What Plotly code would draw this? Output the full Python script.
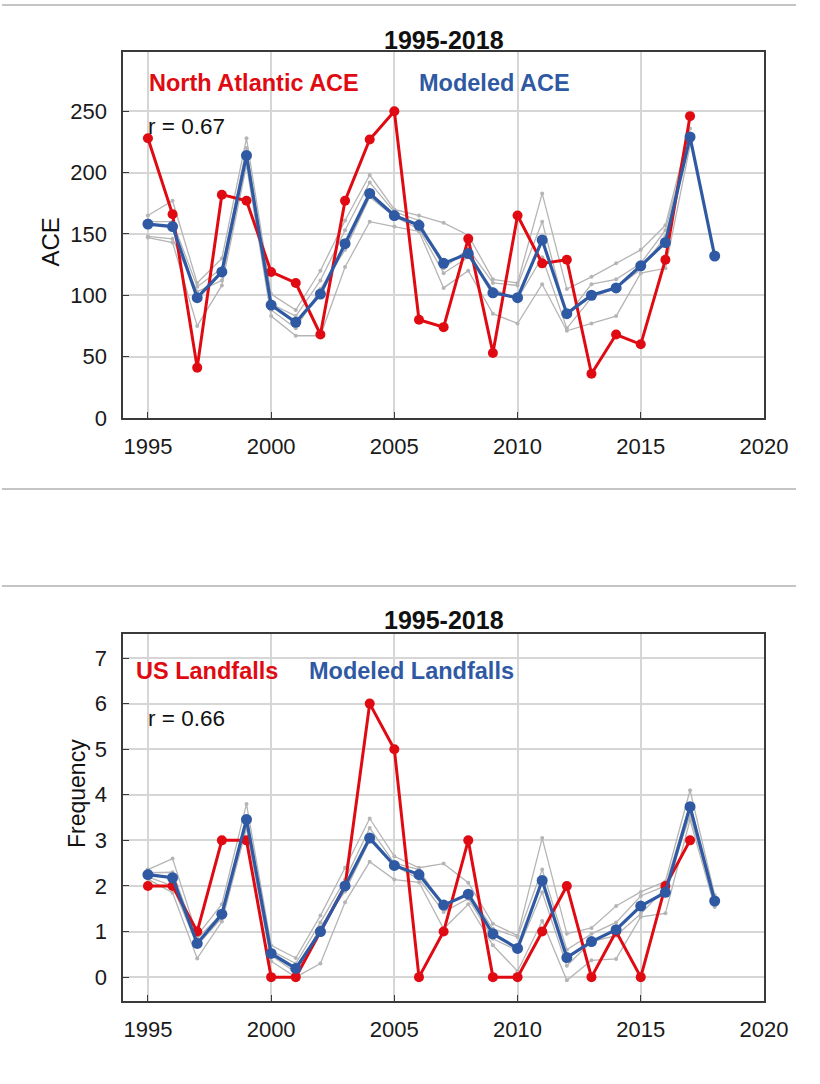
import plotly.graph_objects as go

W, H = 820, 1084

years = list(range(1995, 2019))

# --- Top panel: Accumulated Cyclone Energy ---
ace_obs = [228, 166, 41, 182, 177, 119, 110, 68, 177, 227, 250, 80, 74, 146, 53,
           165, 126, 129, 36, 68, 60, 129, 246, None]
ace_model = [158, 156, 98, 119, 214, 92, 78, 101, 142, 183, 165, 157, 126, 134, 102,
             98, 145, 85, 100, 106, 124, 143, 229, 132]
ace_members = [
    [165, 177, 110, 130, 228, 101, 88, 120, 161, 198, 170, 165, 159, 149, 113,
     110, 183, 105, 115, 126, 137, 157, 236, None],
    [160, 160, 107, 122, 220, 93, 83, 112, 153, 192, 168, 161, 122, 138, 110,
     108, 160, 83, 109, 113, 126, 153, 230, None],
    [148, 146, 103, 112, 212, 88, 73, 105, 137, 180, 164, 154, 118, 131, 105,
     97, 131, 73, 98, 106, 121, 148, 224, None],
    [147, 143, 75, 108, 206, 83, 67, 67, 123, 160, 156, 152, 106, 120, 85,
     77, 109, 71, 77, 83, 118, 122, 222, None],
]

# --- Bottom panel: US hurricane landfalls ---
land_obs = [2, 2, 1, 3, 3, 0, 0, 1, 2, 6, 5, 0, 1, 3, 0, 0, 1, 2, 0, 1, 0, 2, 3, None]
land_model = [2.25, 2.18, 0.74, 1.38, 3.46, 0.52, 0.19, 1.0, 2.0, 3.05, 2.45, 2.25,
              1.58, 1.82, 0.95, 0.63, 2.12, 0.43, 0.78, 1.04, 1.56, 1.86, 3.74, 1.67]
land_members = [
    [2.36, 2.6, 0.91, 1.6, 3.8, 0.7, 0.42, 1.35, 2.4, 3.48, 2.65, 2.4, 2.49, 2.07,
     1.17, 0.91, 3.05, 0.95, 1.08, 1.56, 1.87, 2.1, 4.1, 1.8],
    [2.29, 2.3, 0.84, 1.4, 3.5, 0.58, 0.3, 1.2, 2.14, 3.27, 2.5, 2.36, 1.54, 1.86,
     1.06, 0.88, 2.36, 0.6, 0.95, 1.2, 1.78, 2.0, 3.8, 1.7],
    [2.2, 2.0, 0.7, 1.3, 3.33, 0.48, 0.1, 1.1, 1.88, 3.0, 2.45, 2.15, 1.43, 1.72,
     0.84, 0.58, 1.86, 0.25, 0.78, 0.91, 1.39, 1.95, 3.55, 1.65],
    [2.15, 1.85, 0.41, 1.22, 3.27, 0.35, 0.0, 0.3, 1.64, 2.53, 2.14, 2.08, 1.06, 1.6,
     0.7, 0.13, 1.23, -0.07, 0.37, 0.4, 1.32, 1.4, 3.45, 1.54],
]

panel_title = "1995-2018"
ace_labels = ("North Atlantic ACE", "Modeled ACE", "r = 0.67", "ACE")
land_labels = ("US Landfalls", "Modeled Landfalls", "r = 0.66", "Frequency")

RED = "#e00b12"
BLUE = "#2f5aa3"
GRAY = "#b5b5b5"
FONT = "Liberation Sans, Arial, sans-serif"


def px_x(x):
    return x / W


def px_y(y):
    return 1 - y / H


fig = go.Figure()


def add_panel(xa, ya, obs, model, members):
    for m in members:
        fig.add_trace(go.Scatter(
            x=years, y=m, xaxis=xa, yaxis=ya, mode="lines+markers",
            line=dict(color=GRAY, width=1.3), marker=dict(color=GRAY, size=4),
            showlegend=False, hoverinfo="skip"))
    fig.add_trace(go.Scatter(
        x=years, y=obs, xaxis=xa, yaxis=ya, mode="lines+markers",
        line=dict(color=RED, width=3), marker=dict(color=RED, size=10),
        showlegend=False))
    fig.add_trace(go.Scatter(
        x=years, y=model, xaxis=xa, yaxis=ya, mode="lines+markers",
        line=dict(color=BLUE, width=3.2), marker=dict(color=BLUE, size=11),
        showlegend=False))


add_panel("x", "y", ace_obs, ace_model, ace_members)
add_panel("x2", "y2", land_obs, land_model, land_members)

axis_common = dict(
    showline=True, mirror=True, linecolor="#3a3a3a", linewidth=1.8,
    ticks="inside", ticklen=6, tickcolor="#3a3a3a", tickwidth=1.2,
    showgrid=True, gridcolor="#d6d6d6", gridwidth=1.5, zeroline=False,
    tickfont=dict(family=FONT, size=22, color="#1a1a1a"),
)

x_dom = [px_x(127), px_x(787)]

fig.update_layout(
    width=W, height=H, autosize=False, margin=dict(l=0, r=0, t=0, b=0),
    paper_bgcolor="white", plot_bgcolor="white",
    xaxis=dict(domain=x_dom, anchor="y", range=[1994, 2020], tick0=1995, dtick=5,
               ticklabelstandoff=8, **axis_common),
    yaxis=dict(domain=[px_y(423), px_y(53)], anchor="x", range=[0, 298],
               tickvals=[0, 50, 100, 150, 200, 250], ticklabelstandoff=10, **axis_common),
    xaxis2=dict(domain=x_dom, anchor="y2", range=[1994, 2020], tick0=1995, dtick=5,
                ticklabelstandoff=8, **axis_common),
    yaxis2=dict(domain=[px_y(1013), px_y(642)], anchor="x2", range=[-0.52, 7.52],
                tickvals=list(range(0, 8)), ticklabelstandoff=10, **axis_common),
)

annotations = []


def text(x, y, s, size, color="#111", bold=False, angle=0, xanchor="left"):
    annotations.append(dict(
        x=px_x(x), y=px_y(y), xref="paper", yref="paper", text=f"<b>{s}</b>" if bold else s,
        showarrow=False, xanchor=xanchor, yanchor="middle", textangle=angle,
        font=dict(family=FONT, size=size, color=color)))


# top panel labels
text(457, 40, panel_title, 25, "#111", bold=True, xanchor="center")
text(151, 84, ace_labels[0], 23.5, RED, bold=True)
text(430, 84, ace_labels[1], 23.5, BLUE, bold=True)
text(150, 128, ace_labels[2], 22.5)
text(52, 245, ace_labels[3], 24, angle=-90, xanchor="center")

# bottom panel labels
text(457, 628, panel_title, 25, "#111", bold=True, xanchor="center")
text(138, 679, land_labels[0], 23.5, RED, bold=True)
text(316, 679, land_labels[1], 23.5, BLUE, bold=True)
text(150, 727, land_labels[2], 22.5)
text(80, 803, land_labels[3], 23, angle=-90, xanchor="center")

fig.update_layout(annotations=annotations)

# horizontal separators
for yy in (5, 495, 593):
    fig.add_shape(type="line", xref="paper", yref="paper",
                  x0=px_x(2), x1=1, y0=px_y(yy), y1=px_y(yy),
                  line=dict(color="#c4c4c4", width=2))

fig.write_html("out.html", config={"responsive": False})
